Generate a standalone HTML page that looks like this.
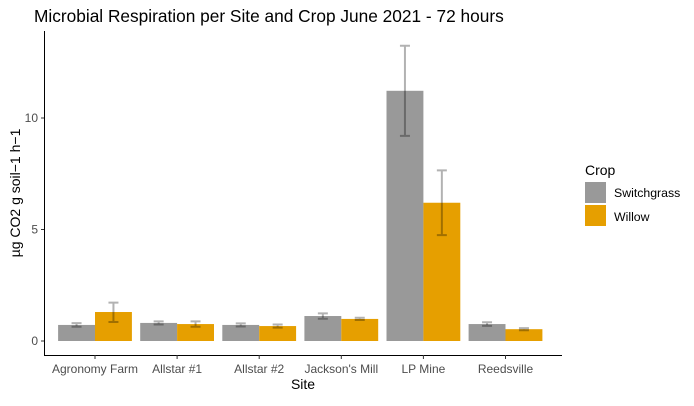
<!DOCTYPE html>
<html><head><meta charset="utf-8"><style>
body{margin:0;background:#fff;font-family:"Liberation Sans",sans-serif}
svg text{font-family:"Liberation Sans",sans-serif}
</style></head><body>
<svg id="chart" width="694" height="401" viewBox="0 0 694 401">
<text x="34" y="22" font-size="17.3" fill="#000">Microbial Respiration per Site and Crop June 2021 - 72 hours</text>
<g id="plot"></g>
<line x1="44.5" y1="31" x2="44.5" y2="355.5" stroke="#000" stroke-width="1"/>
<line x1="44" y1="355.5" x2="562" y2="355.5" stroke="#000" stroke-width="1"/>
<text x="303" y="389" font-size="14" text-anchor="middle">Site</text>
<text transform="translate(20,193) rotate(-90)" font-size="14" text-anchor="middle">µg CO2 g soil−1 h−1</text>
<g>
<text x="585" y="175" font-size="14">Crop</text>
<rect x="585" y="182" width="21" height="21" fill="#999999"/>
<text x="614" y="197" font-size="12.3">Switchgrass</text>
<rect x="585" y="205" width="21" height="21" fill="#E69F00"/>
<text x="614" y="221" font-size="12.3">Willow</text>
</g>
</svg>
<script>
const categories=["Agronomy Farm","Allstar #1","Allstar #2","Jackson's Mill","LP Mine","Reedsville"];
const switchgrass=[0.72,0.81,0.72,1.12,11.22,0.76];
const switchLo=[0.64,0.74,0.65,1.0,9.2,0.68];
const switchHi=[0.80,0.88,0.79,1.24,13.24,0.84];
const willow=[1.3,0.76,0.67,0.99,6.2,0.53];
const willowLo=[0.85,0.64,0.60,0.94,4.75,0.48];
const willowHi=[1.72,0.88,0.74,1.04,7.65,0.58];
const yTicks=[0,5,10];
const NS="http://www.w3.org/2000/svg";
const svg=document.getElementById('chart');
const g=document.getElementById('plot');
function y(v){return 341-v*22.3;}
function xc(i){return 95+i*82.1;}
const bw=36.9;
function mk(t,a){const e=document.createElementNS(NS,t);for(const k in a)e.setAttribute(k,a[k]);return e;}
yTicks.forEach(t=>{
 const l=mk('line',{x1:41,x2:44,y1:y(t),y2:y(t),stroke:'#333'});
 
 
 svg.appendChild(l);
 const tx=mk('text',{x:38,y:y(t)+4,'font-size':12,fill:'#4d4d4d','text-anchor':'end'});
 tx.textContent=t;
 
 
 svg.appendChild(tx);
});
categories.forEach((c,i)=>{
 const cx=xc(i);
 const l=mk('line',{x1:cx,x2:cx,y1:355,y2:359,stroke:'#333'});
 
 
 svg.appendChild(l);
 const tx=mk('text',{x:cx,y:373,'font-size':12,fill:'#4d4d4d','text-anchor':'middle'});
 tx.textContent=c;
 
 
 svg.appendChild(tx);
 [[switchgrass,switchLo,switchHi,'#999999',-1,'switchgrass'],[willow,willowLo,willowHi,'#E69F00',0,'willow']].forEach(s=>{
  const v=s[0][i],x0=cx+s[4]*bw;
  const r=mk('rect',{x:x0,y:y(v),width:bw,height:y(0)-y(v),fill:s[3]});
  
  
  g.appendChild(r);
  const m=x0+bw/2,lo=y(s[1][i]),hi=y(s[2][i]);
  const e=mk('path',{d:`M${m-5},${hi}H${m+5}M${m},${hi}V${lo}M${m-5},${lo}H${m+5}`,stroke:'#000','stroke-opacity':0.3,'stroke-width':2,fill:'none'});
  
  
  g.appendChild(e);
 });
});
</script>
</body></html>
